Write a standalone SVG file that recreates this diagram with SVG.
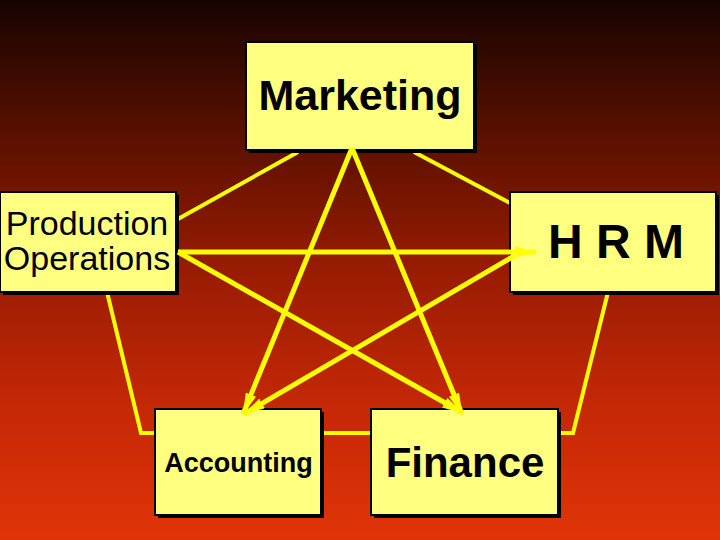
<svg xmlns="http://www.w3.org/2000/svg" width="720" height="540" viewBox="0 0 720 540">
<defs>
<linearGradient id="bg" x1="0" y1="0" x2="0" y2="1">
<stop offset="0" stop-color="#160400"/>
<stop offset="0.25" stop-color="#5a1000"/>
<stop offset="0.5" stop-color="#981c02"/>
<stop offset="0.75" stop-color="#c42806"/>
<stop offset="1" stop-color="#e03408"/>
</linearGradient>
<marker id="ah" markerUnits="userSpaceOnUse" markerWidth="22" markerHeight="11" refX="21" refY="5.5" orient="auto">
<path d="M0,0 L22,5.5 L0,11 z" fill="#ffff00"/>
</marker>
<style>
.shadow{fill:#000}
.box{fill:#ffff80;stroke:#000;stroke-width:2}
.lbl{font-family:"Liberation Sans",Arial,sans-serif;fill:#000;text-anchor:middle}
.b{font-weight:bold}
.pent{fill:none;stroke:#ffff00;stroke-width:4;stroke-linejoin:miter}
.star{fill:none;stroke:#ffff00;stroke-width:5;stroke-linecap:butt}
.arr{marker-end:url(#ah)}
</style>
</defs>
<rect x="0" y="0" width="720" height="540" fill="url(#bg)"/>
<g id="pentagon">
<polyline class="pent" points="298,152 178,219"/>
<polyline class="pent" points="414,152 510,203"/>
<polyline class="pent" points="107,292 141,433 155,433"/>
<polyline class="pent" points="608,292 573,433 558,433"/>
<polyline class="pent" points="322,433 371,433"/>
</g>
<g id="marketing">
<rect class="shadow" x="249" y="45" width="228" height="108"/>
<rect class="box" x="246" y="42" width="228" height="108"/>
<text class="lbl b" x="360" y="110" font-size="43">Marketing</text>
</g>
<g id="production">
<rect class="shadow" x="3" y="195" width="176" height="100"/>
<rect class="box" x="0" y="192" width="176" height="100"/>
<text class="lbl" x="87" y="235" font-size="34">Production</text>
<text class="lbl" x="87" y="270" font-size="34">Operations</text>
</g>
<g id="hrm">
<rect class="shadow" x="513" y="195" width="206" height="100"/>
<rect class="box" x="510" y="192" width="206" height="100"/>
<text class="lbl b" x="616" y="258" font-size="48">H R M</text>
</g>
<g id="accounting">
<rect class="shadow" x="158" y="412" width="166" height="106"/>
<rect class="box" x="155" y="409" width="166" height="106"/>
<text class="lbl b" x="238.5" y="472" font-size="27">Accounting</text>
</g>
<g id="finance">
<rect class="shadow" x="374" y="412" width="187" height="106"/>
<rect class="box" x="371" y="409" width="187" height="106"/>
<text class="lbl b" x="465" y="477" font-size="42">Finance</text>
</g>
<g id="connectors">
<line class="star arr" x1="352" y1="148" x2="243" y2="414"/>
<line class="star arr" x1="352" y1="148" x2="462" y2="414"/>
<line class="star arr" x1="178" y1="252" x2="536" y2="252"/>
<line class="star arr" x1="178" y1="252" x2="463" y2="413"/>
<line class="star arr" x1="514" y1="256" x2="244" y2="414"/>
</g>
</svg>
